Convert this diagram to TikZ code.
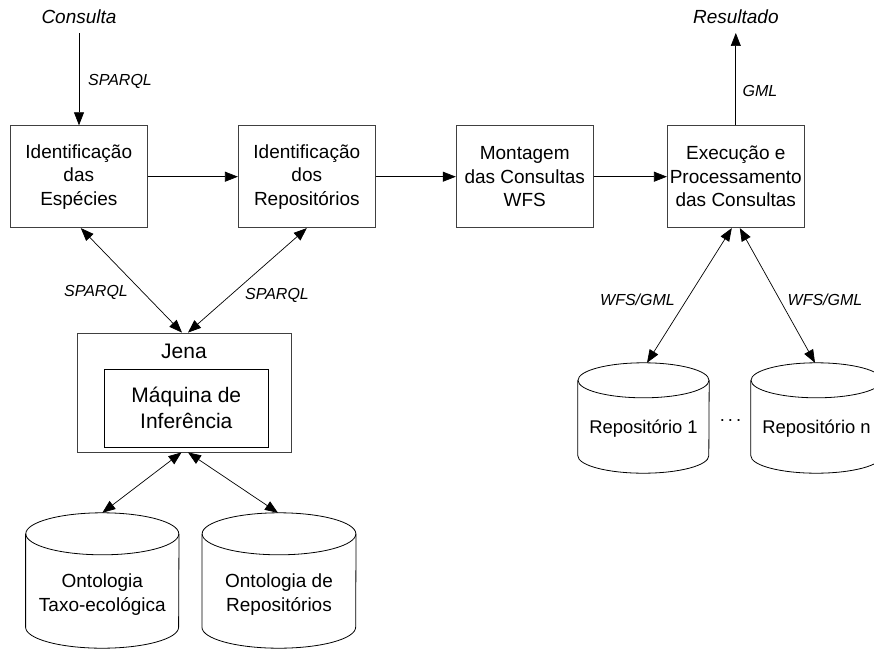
\documentclass[tikz,border=0pt]{standalone}
\usepackage{fontspec}
\setmainfont{Liberation Sans}
\usetikzlibrary{arrows.meta,calc}
\newcommand\mycyl[3]{% node, x radius, y radius
  \draw[line width=0.8pt] ($(#1.north west)+(0,-#3)$) -- ($(#1.south west)+(0,#3)$)
     arc[start angle=180,end angle=360,x radius=#2,y radius=#3]
     -- ($(#1.north east)+(0,-#3)$);
  \draw[line width=0.8pt] ($(#1.north)+(0,-#3)$) ellipse[x radius=#2,y radius=#3];}
\begin{document}
\begin{tikzpicture}[x=1pt,y=1pt,
  proc/.style={draw=black!75, line width=0.8pt, minimum width=137pt, minimum height=102pt,
     inner sep=0pt, align=center, font=\fontsize{19}{23.5}\selectfont},
  lbl/.style={font=\fontsize{16}{19}\selectfont\itshape, inner sep=0pt, anchor=base},
  io/.style={font=\fontsize{19}{23}\selectfont\itshape, inner sep=0pt, anchor=base},
  conn/.style={line width=0.7pt, -{Triangle[length=13pt,width=10pt]}},
  biconn/.style={line width=0.7pt, {Triangle[length=13pt,width=10pt]}-{Triangle[length=13pt,width=10pt]}},
  cylnode/.style={inner sep=0pt},
  cyltext/.style={align=center, inner sep=0pt, font=\fontsize{19}{24.5}\selectfont},
]
\useasboundingbox (0,0) rectangle (874,-650);
\clip (0,0) rectangle (874,-650);

% process boxes
\node[proc] (b1) at (78.8,-176.7) {Identificação\\das\\Espécies};
\node[proc] (b2) at (306.8,-176.7) {Identificação\\dos\\Repositórios};
\node[proc] (b3) at (524.7,-176.7) {Montagem\\das Consultas\\WFS};
\node[proc] (b4) at (735.8,-176.7) {Execução e\\Processamento\\das Consultas};

% input / output
\node[io] (consulta) at (79,-24) {Consulta};
\node[io] (resultado) at (735.8,-24) {Resultado};

% Jena
\node[draw=black!75, line width=0.8pt, minimum width=214pt, minimum height=119pt, inner sep=0pt] (jena) at (184,-392.5) {};
\node[font=\fontsize{21}{25}\selectfont, inner sep=0pt, anchor=base] (jenalbl) at (184,-358) {Jena};
\node[draw, line width=0.8pt, minimum width=164pt, minimum height=78pt, inner sep=0pt, align=center,
      font=\fontsize{21}{26.6}\selectfont] (maq) at (186.3,-408) {Máquina de\\Inferência};

% ontology cylinders
\node[cylnode, minimum width=153pt, minimum height=135pt] (o1) at (102.3,-580.5) {};
\node[cylnode, minimum width=153.7pt, minimum height=135pt] (o2) at (279,-580.5) {};
\mycyl{o1}{76.5}{21}
\mycyl{o2}{76.85}{21}
\node[cyltext] (o1t) at (102.3,-594.5) {Ontologia\\Taxo-ecológica};
\node[cyltext] (o2t) at (279,-594.5) {Ontologia de\\Repositórios};

% repository cylinders
\node[cylnode, minimum width=131pt, minimum height=110pt] (r1) at (643.5,-418) {};
\node[cylnode, minimum width=131pt, minimum height=110pt] (rn) at (816.5,-418) {};
\mycyl{r1}{65.5}{17.5}
\mycyl{rn}{65.5}{17.5}
\node[font=\fontsize{18.4}{22}\selectfont, inner sep=0pt, anchor=base] (r1t) at (643.5,-433.6) {Repositório 1};
\node[font=\fontsize{18.4}{22}\selectfont, inner sep=0pt, anchor=base] (rnt) at (816.5,-433.6) {Repositório n};
\node[font=\fontsize{18.4}{22}\selectfont, inner sep=0pt, anchor=base] (dots) at (730.5,-421) {.\,.\,.};

% connectors
\draw[conn] ($(consulta.south)+(0,-9)$) -- (consulta.south |- b1.north);
\draw[conn] (b4.north) -- ($(resultado.base)+(0,-9)$);
\draw[conn] (b1) -- (b2);
\draw[conn] (b2) -- (b3);
\draw[conn] (b3) -- (b4);
\draw[biconn] ($(b1.south)+(2,0)$) -- ($(jena.north)+(-2,0)$);
\draw[biconn] (b2.south) -- ($(jena.north)+(4,0)$);
\draw[biconn] ($(jena.south)+(-2.5,0)$) -- (o1.north);
\draw[biconn] ($(jena.south)+(4,0)$) -- ($(o2.north)+(-1,0)$);
\draw[biconn] ($(b4.south)+(-4,0)$) -- ($(r1.north)+(3.5,0)$);
\draw[biconn] ($(b4.south)+(4,0)$) -- ($(rn.north)+(-1.5,0)$);

% connector labels
\node[lbl] (l1) at (120,-86) {SPARQL};
\node[lbl] (l2) at (760,-96.7) {GML};
\node[lbl] (l3) at (96,-296.7) {SPARQL};
\node[lbl] (l4) at (277,-299) {SPARQL};
\node[lbl] (l5) at (637.5,-305) {WFS/GML};
\node[lbl] (l6) at (825,-305) {WFS/GML};
\end{tikzpicture}
\end{document}
